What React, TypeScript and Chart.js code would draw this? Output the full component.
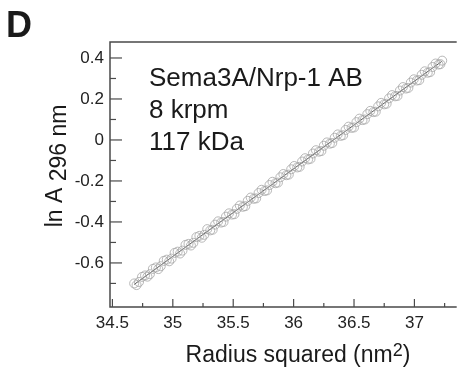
import React, { useEffect, useRef } from "react";
import { Chart, registerables } from "chart.js";

Chart.register(...registerables);

// Measured points (Radius squared nm^2, ln A 296 nm)
const radiusSquared = [
  34.68, 34.72, 34.77, 34.81, 34.86, 34.9, 34.95, 34.99, 35.04, 35.08, 35.13, 35.17, 35.22, 35.26,
  35.31, 35.35, 35.4, 35.44, 35.49, 35.53, 35.58, 35.62, 35.67, 35.71, 35.76, 35.8, 35.85, 35.89,
  35.94, 35.98, 36.03, 36.07, 36.12, 36.16, 36.21, 36.25, 36.3, 36.34, 36.39, 36.43, 36.48, 36.52,
  36.57, 36.61, 36.66, 36.7, 36.75, 36.79, 36.84, 36.88, 36.93, 36.97, 37.02, 37.06, 37.11, 37.15,
  37.2, 37.23,
];
const lnA = [
  -0.7, -0.693, -0.661, -0.655, -0.622, -0.616, -0.584, -0.579, -0.545, -0.54, -0.507, -0.502,
  -0.468, -0.463, -0.441, -0.413, -0.403, -0.374, -0.364, -0.336, -0.326, -0.297, -0.287, -0.259,
  -0.249, -0.22, -0.211, -0.182, -0.172, -0.143, -0.134, -0.105, -0.095, -0.066, -0.057, -0.028,
  -0.018, 0.011, 0.02, 0.049, 0.059, 0.087, 0.097, 0.126, 0.136, 0.164, 0.174, 0.203, 0.213, 0.241,
  0.251, 0.28, 0.29, 0.318, 0.328, 0.356, 0.368, 0.387,
];
// Second scan of readings (interleaved)
const radiusSquared2 = [
  34.7, 34.745, 34.79, 34.835, 34.88, 34.925, 34.97, 35.015, 35.06, 35.105, 35.15, 35.195, 35.24,
  35.285, 35.33, 35.375, 35.42, 35.465, 35.51, 35.555, 35.6, 35.645, 35.69, 35.735, 35.78, 35.825,
  35.87, 35.915, 35.96, 36.005, 36.05, 36.095, 36.14, 36.185, 36.23, 36.275, 36.32, 36.365, 36.41,
  36.455, 36.5, 36.545, 36.59, 36.635, 36.68, 36.725, 36.77, 36.815, 36.86, 36.905, 36.95, 36.995,
  37.04, 37.085, 37.13, 37.175, 37.215,
];
const lnA2 = [
  -0.708, -0.668, -0.667, -0.629, -0.63, -0.59, -0.592, -0.551, -0.554, -0.512, -0.515, -0.474,
  -0.477, -0.435, -0.438, -0.397, -0.4, -0.358, -0.362, -0.32, -0.323, -0.281, -0.285, -0.243,
  -0.246, -0.204, -0.208, -0.166, -0.169, -0.127, -0.131, -0.089, -0.092, -0.05, -0.054, -0.012,
  -0.015, 0.027, 0.023, 0.065, 0.061, 0.104, 0.1, 0.142, 0.138, 0.181, 0.177, 0.219, 0.215, 0.258,
  0.254, 0.296, 0.292, 0.335, 0.331, 0.373, 0.37,
];
// Fitted line end points
const fitX = [34.68, 37.23];
const fitY = [-0.705, 0.385];

const annotationLines = ["Sema3A/Nrp-1 AB", "8 krpm", "117 kDa"];
const panelLabel = "D";
const xTitleMain = "Radius squared (nm";
const xTitleSup = "2";
const xTitleEnd = ")";
const yTitleMain = "ln A ";
const yTitleSub = "296 nm";

const FONT = '"Liberation Sans", Arial, Helvetica, sans-serif';

const decorPlugin = {
  id: "decor",
  afterDraw(chart: any) {
    const ctx = chart.ctx as CanvasRenderingContext2D;
    const { left, right, top, bottom } = chart.chartArea;
    const xs = chart.scales.x;
    const ys = chart.scales.y;
    ctx.save();
    ctx.strokeStyle = "#4a4a4a";
    ctx.lineWidth = 1.5;
    ctx.beginPath();
    ctx.moveTo(right, top);
    ctx.lineTo(left, top);
    ctx.lineTo(left, bottom);
    ctx.lineTo(right, bottom);
    ctx.stroke();
    ctx.lineWidth = 1.2;
    ys.ticks.forEach((t: any) => {
      const p = ys.getPixelForValue(t.value);
      if (p > bottom - 6 || p < top + 2) return;
      const major = Math.round(t.value * 10) % 2 === 0;
      ctx.beginPath();
      ctx.moveTo(left, p);
      ctx.lineTo(left + (major ? 12 : 6), p);
      ctx.stroke();
    });
    xs.ticks.forEach((t: any) => {
      const p = xs.getPixelForValue(t.value);
      if (p < left - 1 || p > right - 1) return;
      const major = Math.round(t.value * 4) % 2 === 0;
      ctx.beginPath();
      ctx.moveTo(p, bottom);
      ctx.lineTo(p, bottom - (major ? 8 : 4));
      ctx.stroke();
    });

    ctx.fillStyle = "#1a1a1a";
    ctx.font = `26px ${FONT}`;
    ctx.textAlign = "left";
    ctx.textBaseline = "alphabetic";
    annotationLines.forEach((s, i) => ctx.fillText(s, 149, 86 + i * 32));

    ctx.font = `bold 36px ${FONT}`;
    ctx.fillText(panelLabel, 6, 37);

    // x title
    ctx.font = `23px ${FONT}`;
    const w1 = ctx.measureText(xTitleMain).width;
    ctx.font = `18px ${FONT}`;
    const w2 = ctx.measureText(xTitleSup).width;
    ctx.font = `23px ${FONT}`;
    const w3 = ctx.measureText(xTitleEnd).width;
    const total = w1 + w2 + w3;
    const x0 = 298 - total / 2;
    const base = 362;
    ctx.fillText(xTitleMain, x0, base);
    ctx.font = `18px ${FONT}`;
    ctx.fillText(xTitleSup, x0 + w1, base - 6);
    ctx.font = `23px ${FONT}`;
    ctx.fillText(xTitleEnd, x0 + w1 + w2, base);

    // y title (rotated)
    ctx.translate(62, 166);
    ctx.rotate(-Math.PI / 2);
    ctx.font = `23px ${FONT}`;
    const a = ctx.measureText(yTitleMain).width;
    const b = ctx.measureText(yTitleSub).width;
    const start = -(a + b) / 2;
    ctx.fillText(yTitleMain, start, 0);
    ctx.fillText(yTitleSub, start + a, 4);
    ctx.restore();
  },
};

export default function App() {
  const ref = useRef<HTMLCanvasElement>(null);
  useEffect(() => {
    if (!ref.current) return;
    const pointStyle = {
      pointStyle: "circle",
      pointRadius: 4.5,
      pointBorderWidth: 0.8,
      pointBorderColor: "#a6a6a6",
      pointBackgroundColor: "rgba(255,255,255,0)",
    };
    const chart = new Chart(ref.current, {
      type: "scatter",
      data: {
        datasets: [
          {
            type: "scatter",
            data: radiusSquared.map((x, i) => ({ x, y: lnA[i] })),
            ...pointStyle,
          } as any,
          {
            type: "scatter",
            data: radiusSquared2.map((x, i) => ({ x, y: lnA2[i] })),
            ...pointStyle,
          } as any,
          {
            type: "line",
            data: fitX.map((x, i) => ({ x, y: fitY[i] })),
            borderColor: "#555555",
            borderWidth: 1,
            pointRadius: 0,
            fill: false,
          } as any,
        ],
      },
      options: {
        responsive: false,
        animation: false,
        events: [],
        layout: { padding: { top: 42, left: 0, right: 0, bottom: 0 } },
        plugins: { legend: { display: false }, tooltip: { enabled: false } },
        scales: {
          x: {
            type: "linear",
            min: 34.48,
            max: 37.35,
            grid: { display: false, drawTicks: false },
            border: { display: false },
            ticks: {
              stepSize: 0.25,
              includeBounds: false,
              autoSkip: false,
              maxRotation: 0,
              padding: 6,
              color: "#222",
              font: { family: FONT, size: 17 },
              callback: (v: any) => {
                const n = Number(v);
                return Math.round(n * 4) % 2 === 0 ? String(Math.round(n * 2) / 2) : "";
              },
            },
            afterFit: (s: any) => {
              s.height = 64;
            },
          },
          y: {
            type: "linear",
            min: -0.815,
            max: 0.478,
            grid: { display: false, drawTicks: false },
            border: { display: false },
            ticks: {
              stepSize: 0.1,
              includeBounds: false,
              autoSkip: false,
              padding: 6,
              color: "#222",
              font: { family: FONT, size: 17 },
              callback: (v: any) => {
                const k = Math.round(Number(v) * 10);
                if (k % 2 !== 0 || k < -6) return "";
                const val = k / 10;
                return val === 0 ? "0" : String(val);
              },
            },
            afterFit: (s: any) => {
              s.width = 110;
            },
          },
        },
      },
      plugins: [decorPlugin],
    });
    return () => chart.destroy();
  }, []);
  return (
    <div style={{ position: "absolute", left: 0, top: 0, width: 462, height: 371, background: "#fff" }}>
      <canvas ref={ref} width={462} height={371} style={{ display: "block" }} />
    </div>
  );
}
